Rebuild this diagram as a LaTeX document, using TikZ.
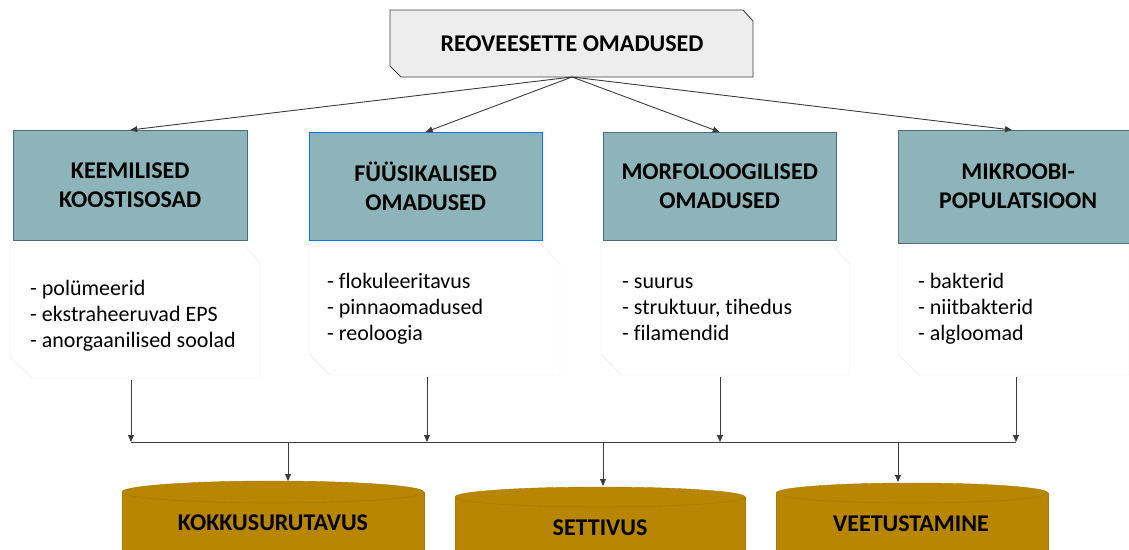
\documentclass[tikz,border=0pt]{standalone}
\usepackage{fontspec}
\setmainfont{Carlito}[Ligatures={NoCommon}]
\usetikzlibrary{arrows.meta}
\definecolor{teal1}{RGB}{141,180,184}
\definecolor{tealline}{RGB}{80,105,125}
\definecolor{gold1}{RGB}{184,134,0}
\definecolor{goldline}{RGB}{170,122,0}
\definecolor{titlefill}{RGB}{237,237,237}
\definecolor{lineg}{RGB}{60,60,60}
\tikzset{
  head/.style={draw=tealline, fill=teal1, anchor=north west, inner sep=0pt,
    align=center, font=\fontsize{24}{29}\selectfont\bfseries},
  list/.style={anchor=west, align=left, inner sep=0pt,
    font=\fontsize{22}{26}\selectfont},
  card/.style={draw=black!8, fill=white},
  barrel/.style={fill=gold1, draw=goldline},
  arr/.style={draw=lineg, line width=0.9pt, -{Triangle[length=7pt,width=6pt]}},
  bold/.style={font=\fontsize{24}{28}\selectfont\bfseries}
}
\begin{document}
\begin{tikzpicture}[x=1pt,y=-1pt]
        \useasboundingbox (0,0) rectangle (1129,549);
        \draw[draw=black!75, fill=titlefill, line width=0.9pt]
          (390,10) -- (743,10) -- (753,21) -- (753,77) -- (401,77) -- (390,66) -- cycle;
        \node[bold] (title) at (572,44) {REOVEESETTE OMADUSED};
        \coordinate (top) at (572,77);

        \draw[card] (10,243) -- (243,243) -- (260,263) -- (260,378) -- (32,378) -- (10,357) -- cycle;
        \draw[card] (309,243) -- (540,243) -- (560,264) -- (560,375) -- (330,375) -- (309,354) -- cycle;
        \draw[card] (601,243) -- (830,243) -- (850,264) -- (850,375) -- (622,375) -- (601,354) -- cycle;
        \draw[card] (898,243) -- (1129,243) -- (1129,375) -- (919,375) -- (898,354) -- cycle;

        \node[head, minimum width=234, minimum height=110] (keem) at (13,130) {KEEMILISED\\KOOSTISOSAD};
        \node[head, draw=blue!55!cyan, minimum width=233, minimum height=108] (fyys) at (309,132) {FÜÜSIKALISED\\OMADUSED};
        \node[head, minimum width=233, minimum height=108] (morf) at (603,132) {MORFOLOOGILISED\\OMADUSED};
        \node[head, minimum width=240, minimum height=113] (mikr) at (898,130) {MIKROOBI-\\POPULATSIOON};

        \node[list] (keemlist) at (30,316) {- polümeerid\\- ekstraheeruvad EPS\\- anorgaanilised soolad};
        \node[list] (fyyslist) at (327,309) {- flokuleeritavus\\- pinnaomadused\\- reoloogia};
        \node[list] (morflist) at (622,309) {- suurus\\- struktuur, tihedus\\- filamendid};
        \node[list] (mikrlist) at (918,309) {- bakterid\\- niitbakterid\\- algloomad};

        \draw[arr] (top) -- (keem.north);
        \draw[arr] (top) -- (fyys.north);
        \draw[arr] (top) -- (morf.north);
        \draw[arr] (top) -- (1012,130);

        \coordinate (k1) at (131,380);
        \coordinate (f1) at (427,377);
        \coordinate (m1) at (720,377);
        \coordinate (p1) at (1016,377);
        \coordinate (k2) at (131,442);
        \coordinate (f2) at (427,442);
        \coordinate (m2) at (720,442);
        \coordinate (p2) at (1016,442);
        \draw[arr] (k1) -- (k2);
        \draw[arr] (f1) -- (f2);
        \draw[arr] (m1) -- (m2);
        \draw[arr] (p1) -- (p2);
        \draw[draw=lineg, line width=0.9pt] (k2) -- (p2);

        \draw[barrel] (122,492) -- (122,560) -- (424,560) -- (424,492);
        \draw[barrel] (273,492) ellipse [x radius=151pt, y radius=11pt];
        \draw[barrel] (455,497) -- (455,560) -- (745,560) -- (745,497);
        \draw[barrel] (600,497) ellipse [x radius=145pt, y radius=10pt];
        \draw[barrel] (776,493) -- (776,560) -- (1048,560) -- (1048,493);
        \draw[barrel] (912,493) ellipse [x radius=136pt, y radius=10pt];
        \node[bold] (kokk) at (273,523) {KOKKUSURUTAVUS};
        \node[bold] (sett) at (600,528) {SETTIVUS};
        \node[bold] (veet) at (911,524) {VEETUSTAMINE};

        \draw[arr] (288,442) -- (288,481);
        \draw[arr] (603,442) -- (603,486);
        \draw[arr] (898,442) -- (898,482);
    \end{tikzpicture}
\end{document}
